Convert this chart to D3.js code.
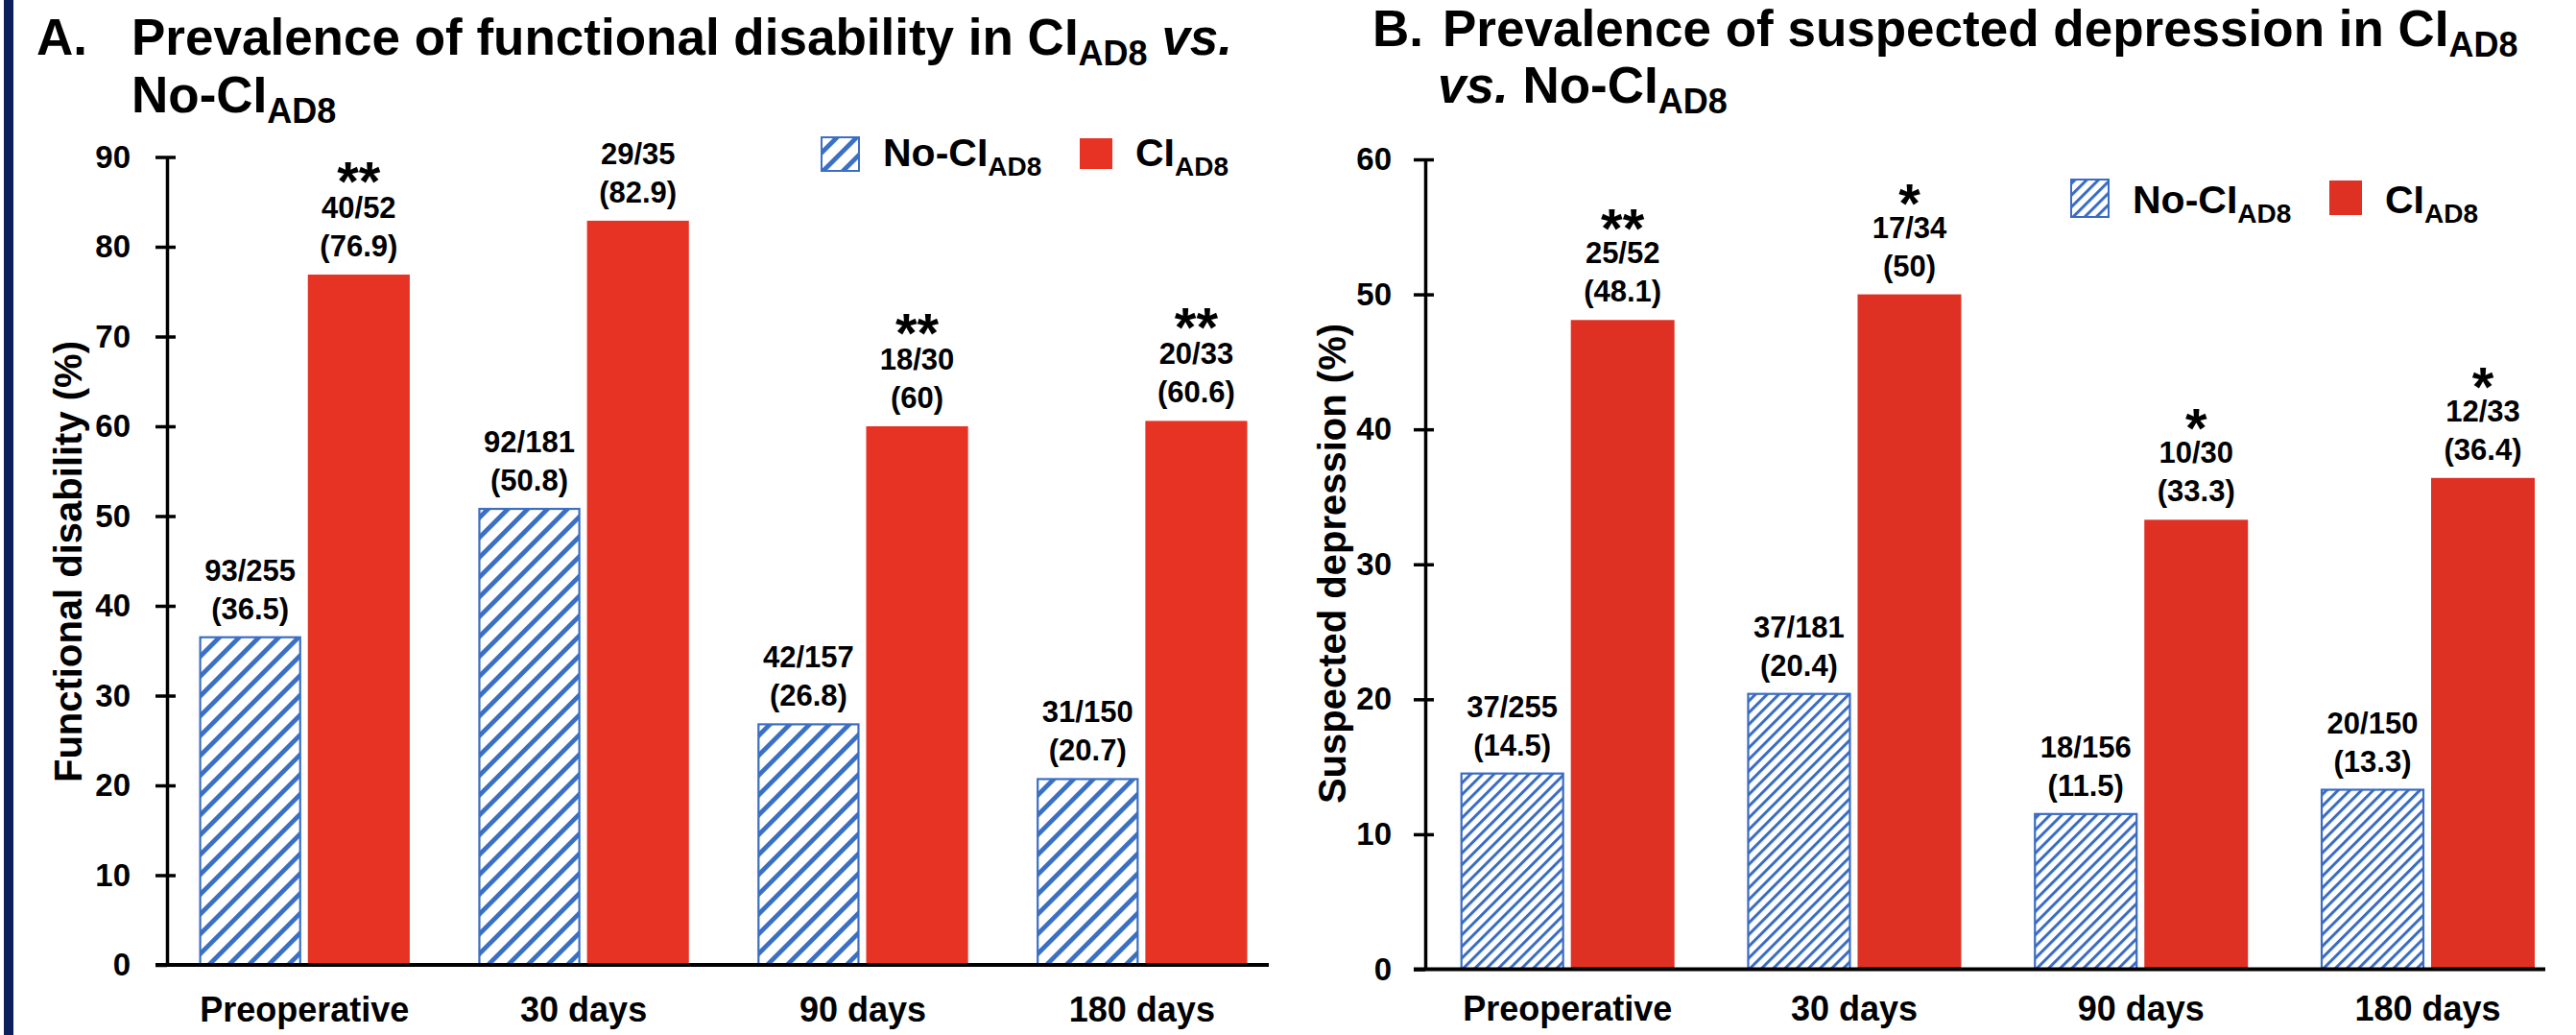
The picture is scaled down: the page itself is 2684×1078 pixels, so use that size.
<!DOCTYPE html>
<html>
<head>
<meta charset="utf-8">
<script src="https://cdn.jsdelivr.net/npm/d3@7"></script>
<style>
  body { margin: 0; background: #fff; }
  text { font-family: "Liberation Sans", Arial, sans-serif; font-weight: bold; fill: #000; }
</style>
</head>
<body>
<script>
// data
var categories = ['Preoperative', '30 days', '90 days', '180 days'];

var disabNoCI = [36.5, 50.8, 26.8, 20.7];
var disabCI = [76.9, 82.9, 60, 60.6];
var disabNoCICounts = ['93/255', '92/181', '42/157', '31/150'];
var disabCICounts = ['40/52', '29/35', '18/30', '20/33'];
var disabStars = ['**', '', '**', '**'];
var disabTicks = [0, 10, 20, 30, 40, 50, 60, 70, 80, 90];

var depNoCI = [14.5, 20.4, 11.5, 13.3];
var depCI = [48.1, 50, 33.3, 36.4];
var depNoCICounts = ['37/255', '37/181', '18/156', '20/150'];
var depCICounts = ['25/52', '17/34', '10/30', '12/33'];
var depStars = ['**', '*', '*', '*'];
var depTicks = [0, 10, 20, 30, 40, 50, 60];

var W = 2684, H = 1078;
var svg = d3.select('body').append('svg').attr('width', W).attr('height', H);
var defs = svg.append('defs');

// hatch patterns for the No-CI bars
function hatch(id, step, stripe, color) {
  var p = defs.append('pattern')
    .attr('id', id)
    .attr('patternUnits', 'userSpaceOnUse')
    .attr('width', step).attr('height', step)
    .attr('patternTransform', 'rotate(45)');
  p.append('rect').attr('width', step).attr('height', step).attr('fill', '#fff');
  p.append('rect').attr('width', stripe).attr('height', step).attr('fill', color);
}
hatch('hatchA', 14.6, 4.8, '#3a6fc3');
hatch('hatchB', 8.6, 3, '#3a6cc2');

// navy frame line on the left
svg.append('rect').attr('x', 4).attr('y', 0).attr('width', 10).attr('height', H).attr('fill', '#0c1f5c');

function drawPanel(p) {
  var g = svg.append('g');

  var y = d3.scaleLinear().domain([0, p.max]).range([p.y0, p.y1]);
  var x0 = d3.scaleBand().domain(categories).range(p.barRange).paddingInner(p.groupPad);
  var x1 = d3.scaleBand().domain(['noci', 'ci']).range([0, x0.bandwidth()]).paddingInner(p.barPad);

  var rows = categories.map(function(c, i) {
    return { cat: c, noci: p.noci[i], ci: p.ci[i], nociN: p.nociN[i], ciN: p.ciN[i], star: p.stars[i] };
  });

  var grp = g.selectAll('.grp').data(rows).enter().append('g')
    .attr('transform', function(d) { return 'translate(' + x0(d.cat) + ',0)'; });

  // bars
  grp.append('rect')
    .attr('x', x1('noci') + 1).attr('width', x1.bandwidth() - 2)
    .attr('y', function(d) { return y(d.noci); })
    .attr('height', function(d) { return y(0) - y(d.noci); })
    .attr('fill', 'url(#' + p.hatch + ')')
    .attr('stroke', p.blue).attr('stroke-width', 2.2);
  grp.append('rect')
    .attr('x', x1('ci')).attr('width', x1.bandwidth())
    .attr('y', function(d) { return y(d.ci); })
    .attr('height', function(d) { return y(0) - y(d.ci); })
    .attr('fill', p.red);

  // value labels
  function labels(key, nKey, xPos) {
    var t = grp.append('text').attr('text-anchor', 'middle').style('font-size', '31px');
    t.append('tspan').attr('x', xPos).attr('y', function(d) { return y(d[key]) - 59; })
      .text(function(d) { return d[nKey]; });
    t.append('tspan').attr('x', xPos).attr('y', function(d) { return y(d[key]) - 19; })
      .text(function(d) { return '(' + d[key] + ')'; });
  }
  labels('noci', 'nociN', x1('noci') + x1.bandwidth() / 2);
  labels('ci', 'ciN', x1('ci') + x1.bandwidth() / 2);

  grp.append('text').attr('text-anchor', 'middle').style('font-size', '58px')
    .attr('x', x1('ci') + x1.bandwidth() / 2)
    .attr('y', function(d) { return y(d.ci) - 59 - p.starGap; })
    .text(function(d) { return d.star; });

  // axes
  g.append('g').attr('transform', 'translate(' + p.axisX + ',0)')
    .call(d3.axisLeft(y).tickValues(p.ticks).tickSize(12).tickSizeOuter(0).tickPadding(p.tickPad))
    .call(function(a) {
      a.selectAll('line, path').attr('stroke', '#000').attr('stroke-width', 3.5);
      a.selectAll('text').style('font-size', '33px').attr('fill', '#000');
    });
  g.append('g').attr('transform', 'translate(' + p.axisX + ',0)')
    .call(d3.axisRight(y).tickValues(p.ticks.slice(1)).tickSize(9).tickSizeOuter(0).tickFormat(''))
    .call(function(a) {
      a.select('.domain').remove();
      a.selectAll('line').attr('stroke', '#000').attr('stroke-width', 3.5);
    });

  g.append('line')
    .attr('x1', p.axisX - 12).attr('x2', p.axisEnd)
    .attr('y1', y(0)).attr('y2', y(0))
    .attr('stroke', '#000').attr('stroke-width', 4);

  g.selectAll('.cat').data(categories).enter().append('text')
    .attr('text-anchor', 'middle').style('font-size', '36px')
    .attr('x', function(d) { return x0(d) + x0.bandwidth() / 2; })
    .attr('y', p.catY)
    .text(function(d) { return d; });

  g.append('text').attr('text-anchor', 'middle').style('font-size', '40px')
    .attr('transform', 'translate(' + p.yLabelX + ',' + p.yLabelY + ') rotate(-90)')
    .attr('dy', '0.35em')
    .text(p.yLabel);

  // legend
  var lg = g.append('g');
  lg.append('rect').attr('x', p.leg.x).attr('y', p.leg.y).attr('width', 39).attr('height', p.leg.h)
    .attr('fill', 'url(#' + p.hatch + ')').attr('stroke', p.blue).attr('stroke-width', 2);
  var l1 = lg.append('text').attr('x', p.leg.x + 64).attr('y', p.leg.base).style('font-size', '41px');
  l1.append('tspan').text('No-CI');
  l1.append('tspan').attr('dy', 10).style('font-size', '28px').text('AD8');
  lg.append('rect').attr('x', p.leg.x + 269).attr('y', p.leg.y + 1).attr('width', 34).attr('height', p.leg.h - 3)
    .attr('fill', p.red);
  var l2 = lg.append('text').attr('x', p.leg.x + 327).attr('y', p.leg.base).style('font-size', '41px');
  l2.append('tspan').text('CI');
  l2.append('tspan').attr('dy', 10).style('font-size', '28px').text('AD8');

  // title
  var t = g.append('text').style('font-size', '53px');
  t.append('tspan').attr('x', p.title.letterX).attr('y', p.title.y1).text(p.title.letter);
  t.append('tspan').attr('x', p.title.x).text(p.title.line1);
  t.append('tspan').attr('dy', 11).style('font-size', '36px').text('AD8');
  if (p.title.vsFirstLine) {
    t.append('tspan').attr('dy', -11).text(' ');
    t.append('tspan').style('font-style', 'italic').text('vs.');
  }
  var t2 = g.append('text').style('font-size', '53px').attr('x', p.title.x2).attr('y', p.title.y2);
  if (!p.title.vsFirstLine) {
    t2.append('tspan').style('font-style', 'italic').text('vs.');
    t2.append('tspan').text(' ');
  }
  t2.append('tspan').text('No-CI');
  t2.append('tspan').attr('dy', 11).style('font-size', '36px').text('AD8');
}

drawPanel({
  max: 90, y0: 1005, y1: 163.5, ticks: disabTicks,
  noci: disabNoCI, ci: disabCI, nociN: disabNoCICounts, ciN: disabCICounts, stars: disabStars,
  barRange: [207.6, 1299.5], groupPad: 0.246, barPad: 0.062,
  axisX: 174, axisEnd: 1322, tickPad: 26, catY: 1064, starGap: 18,
  hatch: 'hatchA', blue: '#3a6fc3', red: '#e63324',
  yLabel: 'Functional disability (%)', yLabelX: 71, yLabelY: 585,
  leg: { x: 856, y: 143, h: 35, base: 173 },
  title: { letter: 'A.', letterX: 38, x: 137, y1: 57, line1: 'Prevalence of functional disability in CI',
           vsFirstLine: true, x2: 137, y2: 117 }
});

drawPanel({
  max: 60, y0: 1009.5, y1: 166, ticks: depTicks,
  noci: depNoCI, ci: depCI, nociN: depNoCICounts, ciN: depCICounts, stars: depStars,
  barRange: [1521.7, 2641], groupPad: 0.2537, barPad: 0.061,
  axisX: 1485, axisEnd: 2652, tickPad: 23, catY: 1063, starGap: 16,
  hatch: 'hatchB', blue: '#3a6cc2', red: '#df3024',
  yLabel: 'Suspected depression (%)', yLabelX: 1388, yLabelY: 587,
  leg: { x: 2158, y: 187, h: 39, base: 222 },
  title: { letter: 'B.', letterX: 1430, x: 1503, y1: 48, line1: 'Prevalence of suspected depression in CI',
           vsFirstLine: false, x2: 1498, y2: 107 }
});
</script>
</body>
</html>
